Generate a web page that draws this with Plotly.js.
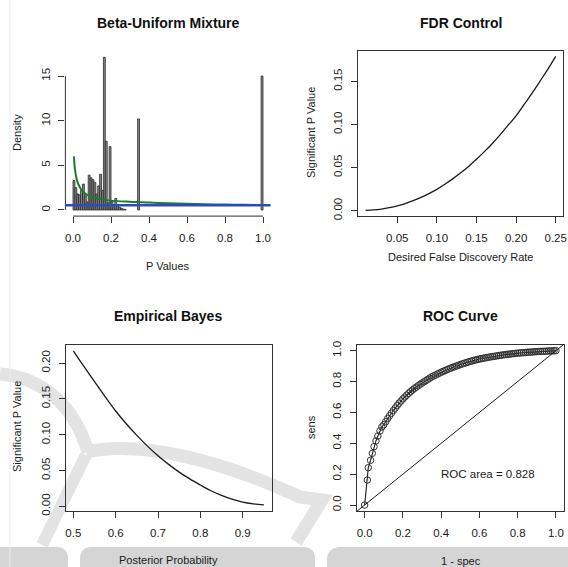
<!DOCTYPE html>
<html>
<head>
<meta charset="utf-8">
<script src="https://cdn.plot.ly/plotly-3.0.1.min.js"></script>
<style>html,body{margin:0;padding:0;background:#fff;}#chart{width:568px;height:567px;}</style>
</head>
<body>
<div id="chart"></div>
<script>
// ---------- Beta-Uniform Mixture (histogram of p values) ----------
const histCenters = [0.005,0.015,0.025,0.035,0.045,0.055,0.065,0.075,0.085,0.095,0.105,0.115,0.125,0.135,0.145,0.155,0.165,0.175,0.185,0.195,0.205,0.215,0.225,0.235,0.245,0.255,0.265,0.275,0.345,0.995];
const histDensity = [3.3,2.5,1.8,1.7,2.2,2.9,1.6,0.9,3.9,3.6,3.4,3.1,1.8,2.7,4.0,2.2,17.1,7.7,0.8,7.1,1.0,0.6,1.3,0.5,0.3,0.2,0.1,0.05,10.2,15.0];
const bumX = [0.005,0.01,0.02,0.03,0.04,0.05,0.07,0.1,0.15,0.2,0.3,0.4,0.5,0.6,0.7,0.8,0.9,1.0];
const bumY = [6.0,4.6,3.4,2.8,2.4,2.1,1.75,1.45,1.2,1.05,0.92,0.83,0.76,0.7,0.65,0.61,0.58,0.56];
const uniformLevel = 0.52;
const histXTicks = [0,0.2,0.4,0.6,0.8,1.0];
const histXLabels = ["0.0","0.2","0.4","0.6","0.8","1.0"];
const histYTicks = [0,5,10,15];
const histYLabels = ["0","5","10","15"];

// ---------- FDR Control ----------
const fdrX = [0.01,0.02,0.03,0.04,0.05,0.06,0.07,0.08,0.09,0.10,0.11,0.12,0.13,0.14,0.15,0.16,0.17,0.18,0.19,0.20,0.21,0.22,0.23,0.24,0.25];
const fdrY = [0.0003,0.0009,0.0019,0.0035,0.0056,0.0083,0.0116,0.0155,0.0199,0.0248,0.0307,0.0369,0.0439,0.0514,0.0598,0.0685,0.078,0.0883,0.0992,0.110,0.123,0.136,0.150,0.164,0.179];
const fdrXTicks = [0.05,0.10,0.15,0.20,0.25];
const fdrXLabels = ["0.05","0.10","0.15","0.20","0.25"];
const fdrYTicks = [0,0.05,0.10,0.15];
const fdrYLabels = ["0.00","0.05","0.10","0.15"];

// ---------- Empirical Bayes ----------
const ebX = [0.50,0.525,0.55,0.575,0.60,0.625,0.65,0.675,0.70,0.725,0.75,0.775,0.80,0.825,0.85,0.875,0.90,0.925,0.95];
const ebY = [0.217,0.1952,0.174,0.1532,0.133,0.1152,0.099,0.084,0.0705,0.0585,0.0477,0.0382,0.0297,0.0217,0.0152,0.0099,0.0058,0.0034,0.002];
const ebXTicks = [0.5,0.6,0.7,0.8,0.9];
const ebXLabels = ["0.5","0.6","0.7","0.8","0.9"];
const ebYTicks = [0,0.05,0.10,0.15,0.20];
const ebYLabels = ["0.00","0.05","0.10","0.15","0.20"];

// ---------- ROC Curve ----------
const rocX = [0,0.014,0.019,0.031,0.040,0.049,0.059,0.069,0.080,0.090,
  0.10,0.11,0.12,0.13,0.14,0.15,0.16,0.17,0.18,0.19,0.20,0.21,0.22,0.23,0.24,0.25,0.26,0.27,0.28,0.29,
  0.30,0.31,0.32,0.33,0.34,0.35,0.36,0.37,0.38,0.39,0.40,0.41,0.42,0.43,0.44,0.45,0.46,0.47,0.48,0.49,
  0.50,0.51,0.52,0.53,0.54,0.55,0.56,0.57,0.58,0.59,0.60,0.61,0.62,0.63,0.64,0.65,0.66,0.67,0.68,0.69,
  0.70,0.71,0.72,0.73,0.74,0.75,0.76,0.77,0.78,0.79,0.80,0.81,0.82,0.83,0.84,0.85,0.86,0.87,0.88,0.89,
  0.90,0.91,0.92,0.93,0.94,0.95,0.96,0.97,0.98,0.99,1.00];
const rocY = [0,0.162,0.242,0.29,0.335,0.378,0.415,0.447,0.48,0.506,
  0.52,0.54,0.56,0.578,0.595,0.612,0.628,0.644,0.66,0.674,0.688,0.70,0.712,0.724,0.735,0.745,0.755,0.764,0.773,0.782,
  0.79,0.798,0.806,0.814,0.822,0.83,0.836,0.842,0.848,0.854,0.86,0.866,0.871,0.877,0.882,0.887,0.892,0.896,0.901,0.905,
  0.91,0.914,0.918,0.922,0.926,0.93,0.933,0.937,0.94,0.943,0.946,0.948,0.951,0.953,0.956,0.958,0.96,0.962,0.964,0.966,
  0.968,0.970,0.972,0.974,0.975,0.977,0.978,0.980,0.981,0.983,0.984,0.985,0.986,0.987,0.988,0.99,0.99,0.991,0.992,0.993,
  0.994,0.995,0.995,0.996,0.996,0.997,0.998,0.998,0.999,0.999,1.0];
const rocArea = "0.828";
const unitTicks = [0,0.2,0.4,0.6,0.8,1.0];
const unitLabels = ["0.0","0.2","0.4","0.6","0.8","1.0"];

// ---------- text ----------
const titles = ["Beta-Uniform Mixture","FDR Control","Empirical Bayes","ROC Curve"];
const xTitles = ["P Values","Desired False Discovery Rate","Posterior Probability","1 - spec"];
const yTitles = ["Density","Significant P Value","Significant P Value","sens"];

// ---------- styling / layout ----------
const W = 568, H = 567;
const FONT = "Liberation Sans, Arial, Helvetica, sans-serif";
const INK = "#1a1a1a";
const px = v => v / W;
const py = v => 1 - v / H;

const traces = [
  {type:"bar", x:histCenters, y:histDensity, width:0.01, xaxis:"x", yaxis:"y",
   marker:{color:"#8a8a8a", line:{color:"#2a2a2a", width:0.8}}, hoverinfo:"skip"},
  {type:"scatter", mode:"lines", x:bumX, y:bumY, xaxis:"x", yaxis:"y",
   line:{color:"#1f7a2a", width:2, shape:"spline"}},
  {type:"scatter", mode:"lines", x:fdrX, y:fdrY, xaxis:"x2", yaxis:"y2",
   line:{color:INK, width:1.3, shape:"spline"}},
  {type:"scatter", mode:"lines", x:ebX, y:ebY, xaxis:"x3", yaxis:"y3",
   line:{color:INK, width:1.3, shape:"spline"}},
  {type:"scatter", mode:"lines+markers", x:rocX, y:rocY, xaxis:"x4", yaxis:"y4",
   line:{color:INK, width:1.1},
   marker:{symbol:"circle-open", size:6.5, color:"#333", line:{width:1}}}
];

function axisBase(extra){
  return Object.assign({
    showgrid:false, zeroline:false, tickmode:"array", ticks:"outside", ticklen:6,
    tickwidth:1, tickcolor:"#333", tickfont:{family:FONT, size:11.5, color:INK},
    linecolor:"#333", linewidth:1, fixedrange:true
  }, extra);
}
const XS = 5, YS = 4;

// light watermark shapes seen in the scanned figure
function pathOf(pts, cmd){ return pts.map((p,i)=> (i===0?"M":(cmd||"L")) + px(p[0]) + "," + py(p[1])).join(" "); }
function roundRect(x0,y0,x1,y1,rl,rr){
  return "M"+px(x0)+","+py(y1)+" L"+px(x0)+","+py(y0+rl)+" Q"+px(x0)+","+py(y0)+" "+px(x0+rl)+","+py(y0)+
         " L"+px(x1-rr)+","+py(y0)+" Q"+px(x1)+","+py(y0)+" "+px(x1)+","+py(y0+rr)+" L"+px(x1)+","+py(y1)+" Z";
}
const WM = "#e3e3e3", BAND = "#d5d5d5";
const watermark = [
  {type:"path", xref:"paper", yref:"paper", layer:"below", path:roundRect(-5,547,68,570,0,12), fillcolor:BAND, line:{width:0}},
  {type:"path", xref:"paper", yref:"paper", layer:"below", path:roundRect(80,547,315,570,12,12), fillcolor:BAND, line:{width:0}},
  {type:"path", xref:"paper", yref:"paper", layer:"below", path:roundRect(327,547,575,570,14,0), fillcolor:BAND, line:{width:0}},
  {type:"path", xref:"paper", yref:"paper", layer:"below",
   path:"M"+px(0)+","+py(374)+" C"+px(45)+","+py(378)+" "+px(75)+","+py(408)+" "+px(88)+","+py(452), line:{color:WM, width:13}},
  {type:"path", xref:"paper", yref:"paper", layer:"below",
   path:"M"+px(86)+","+py(452)+" C"+px(140)+","+py(440)+" "+px(220)+","+py(460)+" "+px(300)+","+py(497)+" L"+px(322)+","+py(500)+" L"+px(296)+","+py(542),
   line:{color:WM, width:13}},
  {type:"path", xref:"paper", yref:"paper", layer:"below", path:pathOf([[86,455],[42,545]]), line:{color:WM, width:12}},
  {type:"line", xref:"paper", yref:"paper", layer:"below", x0:px(10), x1:px(10), y0:0, y1:1, line:{color:"#ececec", width:1}}
];

const layout = {
  width:W, height:H, margin:{l:0,r:0,t:0,b:0},
  paper_bgcolor:"#fff", plot_bgcolor:"rgba(0,0,0,0)", showlegend:false, bargap:0,
  font:{family:FONT, color:INK},
  xaxis: axisBase({domain:[px(65.4),px(270.6)], range:[-0.04,1.04], tickvals:histXTicks, ticktext:histXLabels, showline:false, anchor:"y", ticklabelstandoff:XS}),
  yaxis: axisBase({domain:[py(216.1),py(51.2)], range:[-0.684,17.784], tickvals:histYTicks, ticktext:histYLabels, showline:false, tickangle:-90, anchor:"x", ticklabelstandoff:YS}),
  xaxis2: axisBase({domain:[px(358.0),px(563.3)], range:[0.0004,0.2596], tickvals:fdrXTicks, ticktext:fdrXLabels, showline:true, mirror:true, anchor:"y2", ticklabelstandoff:XS}),
  yaxis2: axisBase({domain:[py(216.4),py(50.7)], range:[-0.0066,0.1856], tickvals:fdrYTicks, ticktext:fdrYLabels, showline:true, mirror:true, tickangle:-90, anchor:"x2", ticklabelstandoff:YS}),
  xaxis3: axisBase({domain:[px(65.7),px(271.5)], range:[0.482,0.968], tickvals:ebXTicks, ticktext:ebXLabels, showline:true, mirror:true, anchor:"y3", ticklabelstandoff:XS}),
  yaxis3: axisBase({domain:[py(511.0),py(344.7)], range:[-0.0066,0.2256], tickvals:ebYTicks, ticktext:ebYLabels, showline:true, mirror:true, tickangle:-90, anchor:"x3", ticklabelstandoff:YS}),
  xaxis4: axisBase({domain:[px(357.0),px(563.6)], range:[-0.04,1.04], tickvals:unitTicks, ticktext:unitLabels, showline:true, mirror:true, anchor:"y4", ticklabelstandoff:XS}),
  yaxis4: axisBase({domain:[py(511.2),py(344.5)], range:[-0.04,1.04], tickvals:unitTicks, ticktext:unitLabels, showline:true, mirror:true, tickangle:-90, anchor:"x4", ticklabelstandoff:YS}),
  shapes: watermark.concat([
    {type:"line", xref:"x domain", yref:"y", x0:0, x1:0, y0:histYTicks[0], y1:histYTicks[histYTicks.length-1], line:{color:"#333", width:1}},
    {type:"line", xref:"x", yref:"y domain", x0:histXTicks[0], x1:histXTicks[histXTicks.length-1], y0:0, y1:0, line:{color:"#333", width:1}},
    {type:"line", xref:"x domain", yref:"y", x0:0, x1:1, y0:uniformLevel, y1:uniformLevel, line:{color:"#2b4cc0", width:2.5}},
    {type:"line", xref:"x4", yref:"y4", x0:-0.04, x1:1.04, y0:-0.04, y1:1.04, line:{color:INK, width:1}}
  ]),
  annotations: []
};

const titlePos = [[168,23],[461,23],[168,316],[460,316]];
const xTitlePos = [[168,266],[461,257],[168,560],[461,561]];
const yTitlePos = [[17,133],[311,133],[17,427],[311,427]];
for (let i=0;i<4;i++){
  layout.annotations.push({text:"<b>"+titles[i]+"</b>", xref:"paper", yref:"paper", x:px(titlePos[i][0]), y:py(titlePos[i][1]),
    xanchor:"center", yanchor:"middle", showarrow:false, font:{family:FONT, size:14, color:"#111"}});
  layout.annotations.push({text:xTitles[i], xref:"paper", yref:"paper", x:px(xTitlePos[i][0]), y:py(xTitlePos[i][1]),
    xanchor:"center", yanchor:"middle", showarrow:false, font:{family:FONT, size:11, color:INK}});
  layout.annotations.push({text:yTitles[i], xref:"paper", yref:"paper", x:px(yTitlePos[i][0]), y:py(yTitlePos[i][1]),
    xanchor:"center", yanchor:"middle", textangle:-90, showarrow:false, font:{family:FONT, size:11, color:INK}});
}
layout.annotations.push({text:"ROC area = "+rocArea, xref:"x4", yref:"y4", x:0.645, y:0.2,
  xanchor:"center", yanchor:"middle", showarrow:false, font:{family:FONT, size:11.5, color:INK}});

Plotly.newPlot("chart", traces, layout, {staticPlot:true, displayModeBar:false});
</script>
</body>
</html>
